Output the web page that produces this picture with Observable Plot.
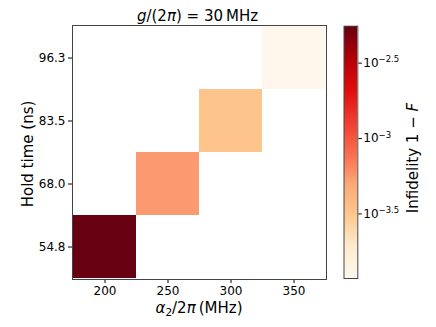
<!DOCTYPE html>
<html><head><meta charset="utf-8">
<script src="https://cdn.jsdelivr.net/npm/d3@7"></script>
<script src="https://cdn.jsdelivr.net/npm/@observablehq/plot@0.6"></script>
<style>
body{margin:0;background:#fff;}
#wrap{position:relative;width:436px;height:327px;font-family:"DejaVu Sans",sans-serif;}
#wrap svg{position:absolute;top:0;overflow:visible;}
</style></head><body><div id="wrap"></div>
<script>
// data
const alphas = [200, 250, 300, 350];
const holdTimes = ["54.8", "68.0", "83.5", "96.3"];
const infidelity = [5.56e-3, 5.5e-4, 3.24e-4, 1.18e-4];
const cbarTicks = [10 ** -3.5, 10 ** -3, 10 ** -2.5];
const cbarTickExps = ["\u22123.5", "\u22123", "\u22122.5"];
const cmapStops = ["#fff7ec", "#feebcf", "#fdc88e", "#fca677", "#f86b4c", "#f03a2e", "#e00c0c", "#b00008", "#670010"];

const vmin = d3.min(infidelity), vmax = d3.max(infidelity);
const interp = d3.piecewise(d3.interpolateRgb, cmapStops);
const colorScale = {type: "log", domain: [vmin, vmax], interpolate: t => interp(t)};
const font = "DejaVu Sans";
const cells = alphas.map((a, i) => ({a, h: holdTimes[i], v: infidelity[i]}));

const wrap = document.getElementById("wrap");

const main = Plot.plot({
  width: 436, height: 327,
  marginLeft: 72, marginRight: 110, marginTop: 25, marginBottom: 48,
  style: {fontFamily: font, fontSize: "12px", color: "#000", background: "transparent"},
  x: {type: "band", domain: alphas, padding: 0, label: null, tickSize: 4, tickPadding: 3},
  y: {type: "band", domain: holdTimes.slice().reverse(), padding: 0, label: null, tickSize: 4, tickPadding: 3},
  color: colorScale,
  marks: [
    Plot.cell(cells, {x: "a", y: "h", fill: "v", inset: 0}),
    Plot.frame({stroke: "#444", strokeWidth: 1})
  ]
});
main.style.left = "0px";
wrap.appendChild(main);

// gradient for the colorbar
const lv0 = Math.log10(vmin), lv1 = Math.log10(vmax), N = 256;
const grad = d3.range(N).map(i => {
  const a = lv0 + (lv1 - lv0) * i / N, b = lv0 + (lv1 - lv0) * (i + 1) / N;
  return {y1: 10 ** a, y2: 10 ** b, v: 10 ** ((a + b) / 2)};
});

const cbar = Plot.plot({
  width: 100, height: 327,
  marginLeft: 7.5, marginRight: 78.7, marginTop: 25.7, marginBottom: 49,
  style: {fontFamily: font, fontSize: "12px", color: "#000", background: "transparent"},
  x: {domain: [0, 1], axis: null},
  y: {type: "log", domain: [vmin, vmax], axis: "right", ticks: cbarTicks,
      tickFormat: d => cbarTickExps[cbarTicks.indexOf(d)], tickSize: 3.5, tickPadding: 2, label: null},
  color: colorScale,
  marks: [
    Plot.rect(grad, {x1: 0, x2: 1, y1: "y1", y2: "y2", fill: "v", shapeRendering: "crispEdges"}),
    Plot.frame({stroke: "#444", strokeWidth: 1})
  ]
});
cbar.style.left = "336px";
wrap.appendChild(cbar);

// superscript tick labels
d3.select(cbar).selectAll('g[aria-label="y-axis tick label"] text').each(function () {
  const t = d3.select(this);
  const e = t.text();
  t.text(null);
  t.append("tspan").text("10");
  t.append("tspan").attr("dy", "-0.55em").attr("font-size", "8.5px").text(e);
});

// labels
const ms = d3.select(main);
ms.append("text").attr("x", 197.5).attr("y", 21).attr("text-anchor", "middle")
  .attr("font-size", "15px").attr("font-family", font)
  .call(t => {
    t.append("tspan").attr("font-style", "italic").text("g");
    t.append("tspan").text("/(2");
    t.append("tspan").attr("font-style", "italic").text("\u03c0");
    t.append("tspan").text(") = 30\u2009MHz");
  });
ms.append("text").attr("x", 199).attr("y", 313).attr("text-anchor", "middle")
  .attr("font-size", "15px").attr("font-family", font)
  .call(t => {
    t.append("tspan").attr("font-style", "italic").text("\u03b1");
    t.append("tspan").attr("font-size", "10.5px").attr("dy", "3").text("2");
    t.append("tspan").attr("dy", "-3").text("/2");
    t.append("tspan").attr("font-style", "italic").text("\u03c0");
    t.append("tspan").text("\u2009(MHz)");
  });
ms.append("text").attr("transform", "translate(32.5,154) rotate(-90)").attr("text-anchor", "middle")
  .attr("font-size", "15px").attr("font-family", font).text("Hold time (ns)");

d3.select(cbar).append("text").attr("transform", "translate(81.5,158) rotate(-90)").attr("text-anchor", "middle")
  .attr("font-size", "15px").attr("font-family", font)
  .call(t => {
    t.append("tspan").text("Infidelity 1 \u2212 ");
    t.append("tspan").attr("font-style", "italic").text("F");
  });
</script></body></html>
